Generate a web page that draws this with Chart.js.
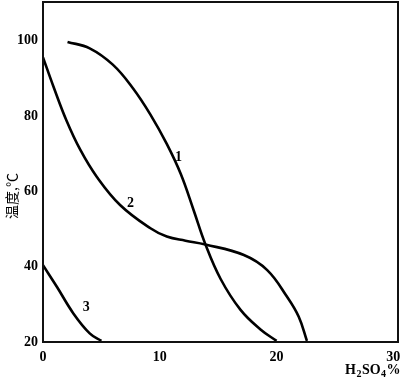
<!DOCTYPE html>
<html>
<head>
<meta charset="utf-8">
<script src="https://cdn.jsdelivr.net/npm/chart.js@4.4.1/dist/chart.umd.min.js"></script>
<style>
  html, body { margin: 0; padding: 0; background: #fff; }
  #wrap { width: 400px; height: 378px; }
</style>
</head>
<body>
<div id="wrap"><canvas id="chart" width="400" height="378"></canvas></div>
<script>
// Curve 1
const curve1X = [2.1, 4.0, 6.0, 7.7, 9.2, 10.6, 11.8, 12.9, 13.9, 15.2, 16.9, 18.6, 20.0];
const curve1Y = [99.7, 98.0, 93.6, 87.4, 80.4, 72.6, 64.6, 55.0, 46.0, 36.8, 28.6, 23.4, 20.3];
// Curve 2
const curve2X = [0, 0.9, 2.0, 3.2, 4.6, 6.6, 9.2, 10.6, 12.2, 13.9, 17.2, 19.2, 20.9, 21.9, 22.6];
const curve2Y = [95.6, 87.8, 78.9, 71.0, 63.9, 56.4, 50.2, 48.0, 46.9, 45.9, 43.1, 39.1, 32.0, 26.7, 20.3];
// Curve 3
const curve3X = [0, 1.2, 2.6, 4.0, 5.0];
const curve3Y = [40.4, 34.6, 27.6, 22.3, 20.3];

// curve number labels
const curveLabels = ['1', '2', '3'];
const labelX = [11.6, 7.5, 3.7];
const labelY = [68.9, 56.9, 29.3];

const xTicks = [0, 10, 20, 30];
const yTicks = [20, 40, 60, 80, 100];

function toPoints(xs, ys) {
    return xs.map((x, i) => ({ x: x, y: ys[i] }));
}

function curveDataset(xs, ys) {
    return {
        data: toPoints(xs, ys),
        borderColor: '#000',
        borderWidth: 2.6,
        pointRadius: 0,
        showLine: true,
        tension: 0.4,
        fill: false
    };
}

const serif = '"Liberation Serif", "DejaVu Serif", serif';

function setTicks(list) {
    return s => { s.ticks = list.map(v => ({ value: v })); };
}

// fixed axis size, and no extra edge padding for the labels
function fitAxis(size, horizontal) {
    return s => {
        if (horizontal) s.height = size; else s.width = size;
        s.paddingTop = 0;
        s.paddingBottom = 0;
        s.paddingLeft = 0;
        s.paddingRight = 0;
    };
}

// frame, curve numbers and axis titles
const extras = {
    id: 'extras',
    afterDraw(chart) {
        const ctx = chart.ctx;
        const a = chart.chartArea;
        const xs = chart.scales.x;
        const ys = chart.scales.y;
        ctx.save();
        ctx.strokeStyle = '#111';
        ctx.lineWidth = 2;
        ctx.strokeRect(a.left, a.top, a.right - a.left, a.bottom - a.top);

        ctx.fillStyle = '#000';
        ctx.font = 'bold 14px ' + serif;
        ctx.textAlign = 'center';
        ctx.textBaseline = 'middle';
        curveLabels.forEach((t, i) => {
            ctx.fillText(t, xs.getPixelForValue(labelX[i]), ys.getPixelForValue(labelY[i]));
        });

        // y title
        ctx.save();
        ctx.translate(12, 196);
        ctx.rotate(-Math.PI / 2);
        ctx.font = '14px "Noto Sans CJK SC", sans-serif';
        ctx.fillText('温度,℃', 0, 0);
        ctx.restore();

        // x title H2SO4%
        ctx.textAlign = 'left';
        ctx.textBaseline = 'alphabetic';
        let px = 345;
        const base = 374;
        const parts = [['H', 14, 0], ['2', 10, 3], ['SO', 14, 0], ['4', 10, 3], ['%', 14, 0]];
        parts.forEach(p => {
            ctx.font = 'bold ' + p[1] + 'px ' + serif;
            ctx.fillText(p[0], px, base + p[2]);
            px += ctx.measureText(p[0]).width + 0.5;
        });
        ctx.restore();
    }
};

new Chart(document.getElementById('chart'), {
    type: 'scatter',
    data: {
        datasets: [
            curveDataset(curve1X, curve1Y),
            curveDataset(curve2X, curve2Y),
            curveDataset(curve3X, curve3Y)
        ]
    },
    options: {
        responsive: false,
        animation: false,
        layout: { padding: { top: 2, right: 2, left: 0, bottom: 0 } },
        plugins: {
            legend: { display: false },
            tooltip: { enabled: false }
        },
        scales: {
            x: {
                type: 'linear',
                min: 0,
                max: 30.4,
                grid: { display: false, drawTicks: false },
                border: { display: false },
                afterBuildTicks: setTicks(xTicks),
                afterFit: fitAxis(36, true),
                ticks: {
                    padding: 7,
                    color: '#000',
                    maxRotation: 0,
                    autoSkip: false,
                    font: { family: serif, size: 14, weight: 'bold' }
                }
            },
            y: {
                type: 'linear',
                min: 20,
                max: 110.3,
                grid: { display: false, drawTicks: false },
                border: { display: false },
                afterBuildTicks: setTicks(yTicks),
                afterFit: fitAxis(43, false),
                ticks: {
                    padding: 5,
                    color: '#000',
                    autoSkip: false,
                    font: { family: serif, size: 14, weight: 'bold' }
                }
            }
        }
    },
    plugins: [extras]
});
</script>
</body>
</html>
